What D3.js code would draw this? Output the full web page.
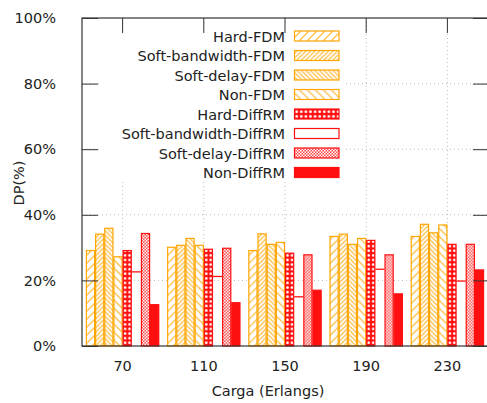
<!DOCTYPE html>
<html>
<head>
<meta charset="utf-8">
<script src="https://cdn.jsdelivr.net/npm/d3@7"></script>
<style>
  body { margin: 0; background: #fff; }
  text { font-family: "DejaVu Sans", sans-serif; fill: #222; }
</style>
</head>
<body>
<div id="chart"></div>
<script>
var categories = ["70", "110", "150", "190", "230"];
var seriesNames = ["Hard-FDM", "Soft-bandwidth-FDM", "Soft-delay-FDM", "Non-FDM",
                   "Hard-DiffRM", "Soft-bandwidth-DiffRM", "Soft-delay-DiffRM", "Non-DiffRM"];

// DP (%) per series, one value per load
var hardFDM      = [29.1, 30.1, 29.1, 33.4, 33.4];
var softBwFDM    = [34.1, 30.7, 34.2, 34.1, 37.1];
var softDelayFDM = [35.9, 32.8, 31.0, 31.0, 34.5];
var nonFDM       = [27.2, 30.7, 31.6, 32.8, 36.9];
var hardDiff     = [29.1, 29.5, 28.3, 32.2, 31.0];
var softBwDiff   = [22.6, 21.2, 15.0, 23.4, 19.8];
var softDelayDiff= [34.3, 29.8, 27.8, 27.8, 31.0];
var nonDiff      = [12.6, 13.2, 17.0, 15.9, 23.2];

var yTicks = [0, 20, 40, 60, 80, 100];

function init() {
    var width = 487, height = 403;
    var left = 82, right = 488, top = 18, bottom = 346;

    var allSeries = [hardFDM, softBwFDM, softDelayFDM, nonFDM, hardDiff, softBwDiff, softDelayDiff, nonDiff];

    var svg = d3.select("#chart").append("svg")
                .attr("width", width)
                .attr("height", height);

    var defs = svg.append("defs");
    var orange = "#ffa500", red = "#ff1010";

    // hatch patterns for the FDM bars
    function hatch(id, size, dir) {
        var p = defs.append("pattern")
            .attr("id", id)
            .attr("patternUnits", "userSpaceOnUse")
            .attr("width", size).attr("height", size);
        p.append("rect").attr("width", size).attr("height", size).attr("fill", "#fff");
        var d = dir > 0
            ? "M0," + size + " L" + size + ",0 M-1,1 L1,-1 M" + (size - 1) + "," + (size + 1) + " L" + (size + 1) + "," + (size - 1)
            : "M0,0 L" + size + "," + size + " M-1," + (size - 1) + " L1," + (size + 1) + " M" + (size - 1) + ",-1 L" + (size + 1) + ",1";
        p.append("path").attr("d", d).attr("stroke", "#ffbe4a").attr("stroke-width", 1.3);
    }
    hatch("p0", 8, 1);
    hatch("p1", 4.5, 1);
    hatch("p2", 4.5, -1);
    hatch("p3", 8, -1);

    var dots = defs.append("pattern")
        .attr("id", "p4").attr("patternUnits", "userSpaceOnUse")
        .attr("width", 4.6).attr("height", 4.6);
    dots.append("rect").attr("width", 4.6).attr("height", 4.6).attr("fill", red);
    dots.append("circle").attr("cx", 2.3).attr("cy", 2.3).attr("r", 1.4).attr("fill", "#fff");

    var check = defs.append("pattern")
        .attr("id", "p6").attr("patternUnits", "userSpaceOnUse")
        .attr("width", 3).attr("height", 3);
    check.append("rect").attr("width", 3).attr("height", 3).attr("fill", "#ff4a4a");
    check.append("rect").attr("width", 1.5).attr("height", 1.5).attr("fill", "#fff");
    check.append("rect").attr("x", 1.5).attr("y", 1.5).attr("width", 1.5).attr("height", 1.5).attr("fill", "#fff");

    var fills = ["url(#p0)", "url(#p1)", "url(#p2)", "url(#p3)", "url(#p4)", "#fff", "url(#p6)", red];
    var strokes = [orange, orange, orange, orange, red, red, red, red];

    var x0 = d3.scaleBand()
               .domain(categories)
               .range([left, right])
               .paddingInner(0.097)
               .paddingOuter(0.0485);
    var x1 = d3.scaleBand()
               .domain(d3.range(seriesNames.length))
               .range([0, x0.bandwidth()]);
    var y = d3.scaleLinear().domain([0, 100]).range([bottom, top]);

    // grid
    var grid = svg.append("g").attr("stroke", "#bbb").attr("stroke-dasharray", "1,3");
    grid.selectAll("line.h").data(yTicks.slice(1, -1)).enter().append("line")
        .attr("x1", left).attr("x2", right)
        .attr("y1", function(d) { return y(d); }).attr("y2", function(d) { return y(d); });
    grid.selectAll("line.v").data(categories).enter().append("line")
        .attr("x1", function(d) { return x0(d) + x0.bandwidth() / 2; })
        .attr("x2", function(d) { return x0(d) + x0.bandwidth() / 2; })
        .attr("y1", top).attr("y2", bottom);

    // bars
    var groups = svg.selectAll("g.grp")
        .data(categories)
        .enter().append("g")
        .attr("class", "grp")
        .attr("transform", function(d) { return "translate(" + x0(d) + ",0)"; });

    groups.selectAll("rect")
        .data(function(c, ci) {
            return allSeries.map(function(s, si) { return { s: si, v: s[ci] }; })
                            .filter(function(d) { return d.s !== 5; });
        })
        .enter().append("rect")
        .attr("x", function(d) { return x1(d.s) + 0.5; })
        .attr("y", function(d) { return y(d.v); })
        .attr("width", x1.bandwidth() - 1)
        .attr("height", function(d) { return bottom - y(d.v); })
        .attr("fill", function(d) { return fills[d.s]; })
        .attr("stroke", function(d) { return strokes[d.s]; })
        .attr("stroke-width", 1.2);

    // the empty soft-bandwidth DiffRM bar only shows its top edge
    groups.append("line")
        .attr("x1", x1(5))
        .attr("x2", x1(5) + x1.bandwidth())
        .attr("y1", function(c, ci) { return y(softBwDiff[ci]); })
        .attr("y2", function(c, ci) { return y(softBwDiff[ci]); })
        .attr("stroke", red)
        .attr("stroke-width", 1.3);

    // legend
    var lx = 285, ly = 36, lstep = 19.5;
    svg.append("rect")
        .attr("x", 100).attr("y", 24)
        .attr("width", 246).attr("height", 157)
        .attr("fill", "#fff");
    var leg = svg.selectAll("g.leg")
        .data(seriesNames)
        .enter().append("g")
        .attr("class", "leg")
        .attr("transform", function(d, i) { return "translate(0," + (ly + i * lstep) + ")"; });
    leg.append("text")
        .attr("x", lx).attr("y", 5.5)
        .attr("text-anchor", "end")
        .style("font-size", "14.5px")
        .text(function(d) { return d; });
    leg.append("rect")
        .attr("x", 294.5).attr("y", -5)
        .attr("width", 44.5).attr("height", 10)
        .attr("fill", function(d, i) { return fills[i]; })
        .attr("stroke", function(d, i) { return strokes[i]; })
        .attr("stroke-width", 1.2);

    // border and ticks
    var axisColor = "#333";
    svg.append("rect")
        .attr("x", left).attr("y", top)
        .attr("width", right - left).attr("height", bottom - top)
        .attr("fill", "none").attr("stroke", axisColor).attr("stroke-width", 1.2);

    var yAxis = d3.axisLeft(y).tickValues(yTicks).tickSize(-16).tickPadding(26)
                  .tickFormat(function(d) { return d + "%"; });
    var ya = svg.append("g").attr("transform", "translate(" + left + ",0)").call(yAxis);
    ya.select(".domain").remove();
    ya.selectAll("line").attr("stroke", axisColor);
    ya.selectAll("text").style("font-size", "14.5px").attr("fill", "#222")
      .attr("font-family", "DejaVu Sans");

    var yRight = d3.axisRight(y).tickValues(yTicks).tickSize(-15).tickFormat("");
    var yr = svg.append("g").attr("transform", "translate(" + right + ",0)").call(yRight);
    yr.select(".domain").remove();
    yr.selectAll("line").attr("stroke", axisColor);

    var xAxis = d3.axisBottom(x0).tickSize(0).tickPadding(15);
    var xa = svg.append("g").attr("transform", "translate(0," + bottom + ")").call(xAxis);
    xa.select(".domain").remove();
    xa.selectAll("text").style("font-size", "14.5px").attr("fill", "#222")
      .attr("font-family", "DejaVu Sans");

    var xTop = d3.axisTop(x0).tickSize(-15).tickFormat("");
    var xt = svg.append("g").attr("transform", "translate(0," + top + ")").call(xTop);
    xt.select(".domain").remove();
    xt.selectAll("line").attr("stroke", axisColor);

    // axis titles
    svg.append("text")
        .attr("x", (left + right) / 2 - 17).attr("y", 396)
        .attr("text-anchor", "middle")
        .style("font-size", "14.5px")
        .text("Carga (Erlangs)");
    svg.append("text")
        .attr("transform", "translate(24,183) rotate(-90)")
        .attr("text-anchor", "middle")
        .style("font-size", "14.5px")
        .text("DP(%)");
}

window.onload = init;
</script>
</body>
</html>
